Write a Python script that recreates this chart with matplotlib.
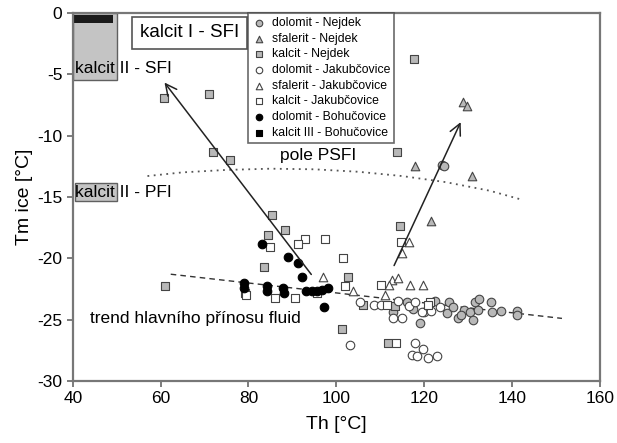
import numpy as np
import matplotlib
matplotlib.use('Agg')
import matplotlib.pyplot as plt
from matplotlib.patches import Rectangle

plt.rcParams['font.family'] = ['Liberation Sans', 'DejaVu Sans']

# --- data ---
dol_nej_x = [124.0, 124.6, 113.0, 116.0, 117.5, 125.6, 125.2, 127.7, 129.2, 130.4, 131.1, 131.5,
             132.4, 132.2, 135.2, 135.4, 137.5, 141.1, 141.1, 126.5, 128.5, 122.5, 119.0]
dol_nej_y = [-12.4, -12.5, -24.4, -23.6, -24.1, -23.6, -24.5, -24.9, -24.2, -24.4, -25.0, -23.6,
             -23.3, -24.2, -23.6, -24.4, -24.3, -24.3, -24.6, -24.0, -24.6, -23.5, -25.3]

sfa_nej_x = [128.8, 129.7, 117.9, 130.8, 121.6]
sfa_nej_y = [-7.3, -7.6, -12.5, -13.3, -17.0]

kal_nej_x = [60.7, 71.0, 72.0, 75.7, 117.6, 113.8, 114.5, 85.3, 88.3, 84.4, 83.5, 79.2,
             102.6, 61.0, 101.3, 111.7, 106.0, 113.3]
kal_nej_y = [-6.9, -6.6, -11.3, -12.0, -3.8, -11.3, -17.4, -16.5, -17.7, -18.1, -20.7, -22.8,
             -21.5, -22.3, -25.8, -26.9, -23.8, -23.9]

dol_jak_x = [103.1, 117.9, 119.7, 117.2, 118.3, 120.8, 122.9, 112.9, 114.9, 119.9, 108.5, 110.3,
             119.5, 123.6, 116.5, 114.0, 121.5, 105.5, 118.0]
dol_jak_y = [-27.1, -26.9, -27.4, -27.9, -28.0, -28.1, -28.0, -24.9, -24.9, -24.4, -23.8, -23.8,
             -24.4, -24.0, -23.9, -23.5, -24.3, -23.6, -23.6]

sfa_jak_x = [116.5, 115.0, 96.9, 103.8, 112.6, 114.0, 116.7, 119.7, 111.0, 112.0]
sfa_jak_y = [-18.7, -19.6, -21.5, -22.7, -21.8, -21.6, -22.2, -22.2, -23.0, -22.2]

kal_jak_x = [92.8, 91.3, 84.9, 97.4, 101.5, 101.9, 114.7, 86.0, 90.5, 110.3, 111.5, 113.5,
             121.3, 120.9, 79.5, 95.5]
kal_jak_y = [-18.4, -18.8, -19.1, -18.4, -20.0, -22.3, -18.7, -23.2, -23.2, -22.2, -23.8, -26.9,
             -23.6, -23.8, -23.0, -22.8]

dol_boh_x = [83.0, 89.0, 91.2, 92.1, 78.9, 79.1, 84.2, 84.2, 87.8, 88.0, 93.0, 94.4, 95.6,
             96.7, 98.1, 97.1]
dol_boh_y = [-18.8, -19.9, -20.4, -21.5, -22.0, -22.4, -22.3, -22.7, -22.4, -22.8, -22.7, -22.7,
             -22.7, -22.6, -22.4, -24.0]

# dotted "pole PSFI" boundary and dashed trend line
psfi_x = [57, 65, 75, 85, 95, 105, 115, 125, 135, 142]
psfi_y = [-13.3, -13.0, -12.8, -12.7, -12.75, -12.95, -13.3, -13.8, -14.5, -15.2]
trend_x = [62.3, 151.4]
trend_y = [-21.3, -24.9]

# arrows (tail, head)
arrow1 = ((94.7, -21.5), (60.5, -5.5))
arrow2 = ((112.9, -20.8), (128.6, -8.7))

gray = '#b8b8b8'
edge = '#444444'

fig = plt.figure(figsize=(6.17, 4.43), dpi=100)
ax = fig.add_axes([0.118, 0.140, 0.854, 0.831])

# shaded fields on the left
ax.add_patch(Rectangle((40, -5.5), 10, 5.5, facecolor='#c4c4c4', edgecolor='#606060', lw=1, zorder=1))
ax.add_patch(Rectangle((40.3, -0.85), 8.8, 0.7, facecolor='#1a1a1a', edgecolor='none', zorder=2))
ax.add_patch(Rectangle((40.4, -15.3), 9.6, 1.4, facecolor='#c4c4c4', edgecolor='#606060', lw=1, zorder=1))

ax.plot(psfi_x, psfi_y, ls=(0, (1, 2.5)), color='#555555', lw=1.3, zorder=2)
ax.plot(trend_x, trend_y, ls=(0, (4, 3)), color='#333333', lw=1, zorder=2)

for tail, head in [arrow1, arrow2]:
    ax.annotate('', xy=head, xytext=tail,
                arrowprops=dict(arrowstyle='->,head_length=0.8,head_width=0.4', lw=1.1, color='#222222'),
                zorder=5)

ms = 38
ax.scatter(dol_nej_x, dol_nej_y, s=ms, marker='o', facecolor=gray, edgecolor=edge, lw=0.8, label='dolomit - Nejdek', zorder=3)
ax.scatter(sfa_nej_x, sfa_nej_y, s=ms, marker='^', facecolor=gray, edgecolor=edge, lw=0.8, label='sfalerit - Nejdek', zorder=3)
ax.scatter(kal_nej_x, kal_nej_y, s=ms - 6, marker='s', facecolor=gray, edgecolor=edge, lw=0.8, label='kalcit - Nejdek', zorder=3)
ax.scatter(dol_jak_x, dol_jak_y, s=ms, marker='o', facecolor='white', edgecolor=edge, lw=0.8, label='dolomit - Jakubčovice', zorder=3)
ax.scatter(sfa_jak_x, sfa_jak_y, s=ms, marker='^', facecolor='white', edgecolor=edge, lw=0.8, label='sfalerit - Jakubčovice', zorder=3)
ax.scatter(kal_jak_x, kal_jak_y, s=ms - 6, marker='s', facecolor='white', edgecolor=edge, lw=0.8, label='kalcit - Jakubčovice', zorder=3)
ax.scatter(dol_boh_x, dol_boh_y, s=ms, marker='o', facecolor='black', edgecolor='black', lw=0.8, label='dolomit - Bohučovice', zorder=3)
ax.scatter([], [], s=ms - 6, marker='s', facecolor='black', edgecolor='black', lw=0.8, label='kalcit III - Bohučovice')

# labels in the plot
ax.text(66.6, -1.63, 'kalcit I - SFI', fontsize=13.5, ha='center', va='center',
        bbox=dict(boxstyle='square,pad=0.4', facecolor='white', edgecolor='#555555', lw=1.2), zorder=4)
ax.text(40.6, -4.5, 'kalcit II - SFI', fontsize=12.5, ha='left', va='center', zorder=4)
ax.text(40.6, -14.6, 'kalcit II - PFI', fontsize=12.5, ha='left', va='center', zorder=4)
ax.text(95.8, -11.6, 'pole PSFI', fontsize=12.5, ha='center', va='center')
ax.text(43.9, -24.9, 'trend hlavního přínosu fluid', fontsize=12.5, ha='left', va='center')

leg = ax.legend(loc='upper left', bbox_to_anchor=(0.332, 1.0), borderaxespad=0, fontsize=8.8,
                frameon=True, fancybox=False, edgecolor='#444444', labelspacing=0.3,
                handletextpad=0.4, handlelength=1.2, borderpad=0.35, scatterpoints=1)
leg.get_frame().set_linewidth(1.2)
for h in leg.legend_handles:
    h.set_sizes([22])

ax.set_xlim(40, 160)
ax.set_ylim(-30, 0)
ax.set_xticks([40, 60, 80, 100, 120, 140, 160])
ax.set_yticks([-30, -25, -20, -15, -10, -5, 0])
ax.set_xticklabels(['40', '60', '80', '100', '120', '140', '160'])
ax.set_yticklabels(['-30', '-25', '-20', '-15', '-10', '-5', '0'])
ax.tick_params(direction='out', length=4, width=1.2, color='#666666', labelsize=12.5)
for s in ax.spines.values():
    s.set_color('#777777')
    s.set_linewidth(1.6)
ax.set_xlabel('Th [°C]', fontsize=14, labelpad=7)
ax.set_ylabel('Tm ice [°C]', fontsize=14, labelpad=3)

fig.savefig('out.png', dpi=100)
